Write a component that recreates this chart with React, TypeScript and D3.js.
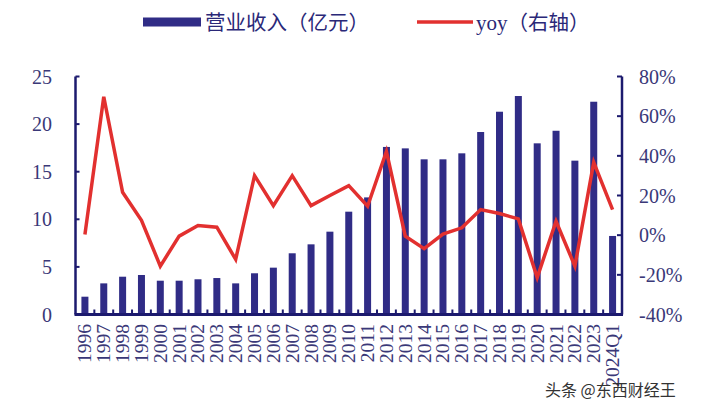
import React from "react";
import * as d3 from "d3";

const categories = ["1996","1997","1998","1999","2000","2001","2002","2003","2004","2005","2006","2007","2008","2009","2010","2011","2012","2013","2014","2015","2016","2017","2018","2019","2020","2021","2022","2023","2024Q1"];
const revenue = [1.87,3.27,3.97,4.15,3.55,3.55,3.7,3.83,3.27,4.33,4.92,6.43,7.37,8.7,10.8,12.3,17.6,17.45,16.3,16.3,16.93,19.17,21.3,22.95,17.98,19.3,16.16,22.35,8.25];
const yoy = [0.3,69.8,21.6,7.5,-15.6,-0.5,4.9,4.0,-12.2,30,14.9,30,14.9,20,25,14.6,42.2,-0.5,-6.8,0.5,3.7,12.9,10.9,8.2,-21.4,7,-15.6,36.7,12.9];
const leftTicks = [0,5,10,15,20,25];
const rightTicks = [-40,-20,0,20,40,60,80];

const W = 703, H = 409;
const X0 = 75.5, X1 = 622, YT = 76.5, YB = 314.5;
const NAVY = "#1c1a6e";
const BAR = "#302c86";
const RED = "#e2302f";
const TICKTXT = "#3a3878";
const SERIF = "'Liberation Serif','DejaVu Serif',serif";
const CJK = "'Noto Sans CJK SC','Noto Sans',sans-serif";

export default function App() {
  const x = d3.scaleBand<string>().domain(categories).range([X0, X1]).paddingInner(0).paddingOuter(0);
  const yL = d3.scaleLinear().domain([0, 25]).range([YB, YT]);
  const yR = d3.scaleLinear().domain([-40, 80]).range([YB, YT]);
  const bw = 7;
  const line = d3.line<number>()
    .x((_, i) => (x(categories[i]) as number) + x.bandwidth() / 2)
    .y((d) => yR(d));
  const boundaries = categories.slice(1).map((c) => x(c) as number);

  return (
    <svg width={W} height={H} style={{ position: "absolute", left: 0, top: 0, background: "#fff" }}>
      <rect x={0} y={0} width={W} height={H} fill="#fff" />
      {/* legend */}
      <rect x={143} y={17.5} width={58} height={9} fill={BAR} />
      <text x={205} y={30} fontFamily={CJK} fontSize={20.5} fill="#2a2878">营业收入（亿元）</text>
      <line x1={417} x2={473} y1={22} y2={22} stroke={RED} strokeWidth={3.5} />
      <text x={476} y={30} fontFamily={SERIF} fontSize={21} fill="#2a2878">yoy<tspan fontFamily={CJK} fontSize={20.5}>（右轴）</tspan></text>

      {/* bars */}
      {revenue.map((v, i) => (
        <rect key={categories[i]} x={(x(categories[i]) as number) + x.bandwidth() / 2 - bw / 2} y={yL(v)} width={bw} height={YB - yL(v)} fill={BAR} />
      ))}

      {/* line */}
      <path d={line(yoy) || ""} fill="none" stroke={RED} strokeWidth={3.5} strokeLinejoin="miter" />

      {/* axes */}
      <line x1={X0} x2={X0} y1={YT} y2={YB} stroke={NAVY} strokeWidth={2.5} />
      <line x1={X1} x2={X1} y1={YT} y2={YB} stroke={NAVY} strokeWidth={2.5} />
      <line x1={X0 - 1} x2={X1 + 1} y1={YB} y2={YB} stroke={NAVY} strokeWidth={3} />
      {leftTicks.map((t) => (
        <g key={"l" + t}>
          <line x1={X0} x2={X0 + 4} y1={yL(t)} y2={yL(t)} stroke={NAVY} strokeWidth={2} />
          <text x={52} y={yL(t) + 7} textAnchor="end" fontFamily={SERIF} fontSize={20} fill={TICKTXT}>{t}</text>
        </g>
      ))}
      {rightTicks.map((t) => (
        <g key={"r" + t}>
          <line x1={X1 - 5} x2={X1} y1={yR(t)} y2={yR(t)} stroke={NAVY} strokeWidth={2} />
          <text x={639} y={yR(t) + 7} textAnchor="start" fontFamily={SERIF} fontSize={20} fill={TICKTXT}>{t + "%"}</text>
        </g>
      ))}
      {boundaries.map((b, i) => (
        <line key={"b" + i} x1={b} x2={b} y1={YB} y2={YB - 5} stroke={NAVY} strokeWidth={2} />
      ))}
      {categories.map((c) => {
        const cx = (x(c) as number) + x.bandwidth() / 2;
        return (
          <text key={"x" + c} transform={`translate(${cx + 6.5},${324}) rotate(-90)`} textAnchor="end" fontFamily={SERIF} fontSize={19.5} fill={TICKTXT}>{c}</text>
        );
      })}

      {/* watermark */}
      <text x={545} y={396} fontFamily={CJK} fontSize={16} fill="#333">头条 @东西财经王</text>
    </svg>
  );
}
